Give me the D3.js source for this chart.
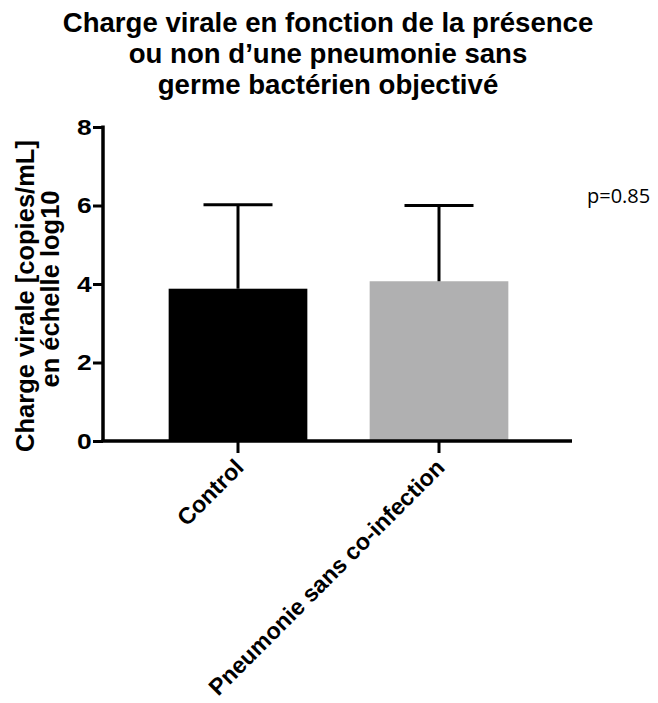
<!DOCTYPE html>
<html><head><meta charset="utf-8">
<script src="https://cdn.jsdelivr.net/npm/d3@7"></script>
<style>body{margin:0;background:#fff}svg{display:block}</style>
</head><body>
<svg id="chart" width="658" height="703"></svg>
<script>
const categories = ["Control", "Pneumonie sans co-infection"];
const means = [3.88, 4.07];
const errorTops = [6.02, 6.0];
const barColors = ["#000000", "#b0b0b1"];
const yTicks = [0, 2, 4, 6, 8];
const titleLines = ["Charge virale en fonction de la présence", "ou non d\u2019une pneumonie sans", "germe bactérien objectivé"];
const yLabelLines = ["Charge virale [copies/mL]", "en échelle log10"];
const annotation = "p=0.85";

const svg = d3.select("#chart");
const x0 = 103, x1 = 572, yTop = 127, yBottom = 441;

const y = d3.scaleLinear().domain([0, 8]).range([yBottom, yTop]);
const x = d3.scaleBand().domain(categories).range([137.5, 539.5]).paddingInner(0.31).paddingOuter(0.155);

const font = "'Liberation Sans', Arial, sans-serif";

// Title
svg.append("g").selectAll("text").data(titleLines).join("text")
  .attr("x", 328).attr("y", (d, i) => 32 + i * 31)
  .attr("text-anchor", "middle")
  .style("font-family", font).style("font-weight", "bold").style("font-size", "27.6px")
  .text(d => d);

// Bars
svg.append("g").selectAll("rect").data(categories).join("rect")
  .attr("x", d => x(d)).attr("width", x.bandwidth())
  .attr("y", (d, i) => y(means[i])).attr("height", (d, i) => y(0) - y(means[i]))
  .attr("fill", (d, i) => barColors[i]);

// Error bars
const eg = svg.append("g").attr("stroke", "#000").attr("stroke-width", 3);
categories.forEach((c, i) => {
  const cx = x(c) + x.bandwidth() / 2;
  eg.append("line").attr("x1", cx).attr("x2", cx).attr("y1", y(means[i])).attr("y2", y(errorTops[i]));
  eg.append("line").attr("x1", cx - 34.5).attr("x2", cx + 34.5).attr("y1", y(errorTops[i])).attr("y2", y(errorTops[i]));
});

// Y axis
const yAxis = svg.append("g").attr("transform", `translate(${x0},0)`)
  .call(d3.axisLeft(y).tickValues(yTicks).tickFormat(d3.format("d")).tickSize(10).tickPadding(2));
yAxis.select(".domain").attr("stroke-width", 3.5).attr("d", `M0,${yTop - 1.5}V${yBottom}`);
yAxis.selectAll(".tick line").attr("stroke-width", 3);
yAxis.selectAll(".tick text").style("font-family", font).style("font-weight", "bold").style("font-size", "22px").attr("fill", "#000")
  .attr("transform", "translate(-15,0) scale(1.2,1) translate(15,0)");

// X axis
const xAxis = svg.append("g").attr("transform", `translate(0,${yBottom})`)
  .call(d3.axisBottom(x).tickSize(12).tickSizeOuter(0));
xAxis.select(".domain").attr("stroke-width", 3.5).attr("d", `M${x0 - 1.5},0H${x1}`);
xAxis.selectAll(".tick line").attr("stroke-width", 3);
xAxis.selectAll(".tick text")
  .attr("x", 0).attr("y", 0).attr("dy", 0)
  .attr("transform", "translate(7,28) rotate(-45)")
  .style("text-anchor", "end")
  .style("font-family", font).style("font-weight", "bold").style("font-size", "23.2px").attr("fill", "#000");

// Y label
svg.append("g")
  .selectAll("text").data(yLabelLines).join("text")
  .attr("transform", (d, i) => `translate(${34 + i * 25},${i === 0 ? 296 : 289}) rotate(-90)`)
  .attr("text-anchor", "middle")
  .style("font-family", font).style("font-weight", "bold").style("font-size", "25.5px")
  .text(d => d);

// Annotation
svg.append("text").attr("x", 587).attr("y", 203)
  .style("font-family", "'Open Sans', sans-serif").style("font-size", "20px")
  .text(annotation);
</script>
</body></html>
